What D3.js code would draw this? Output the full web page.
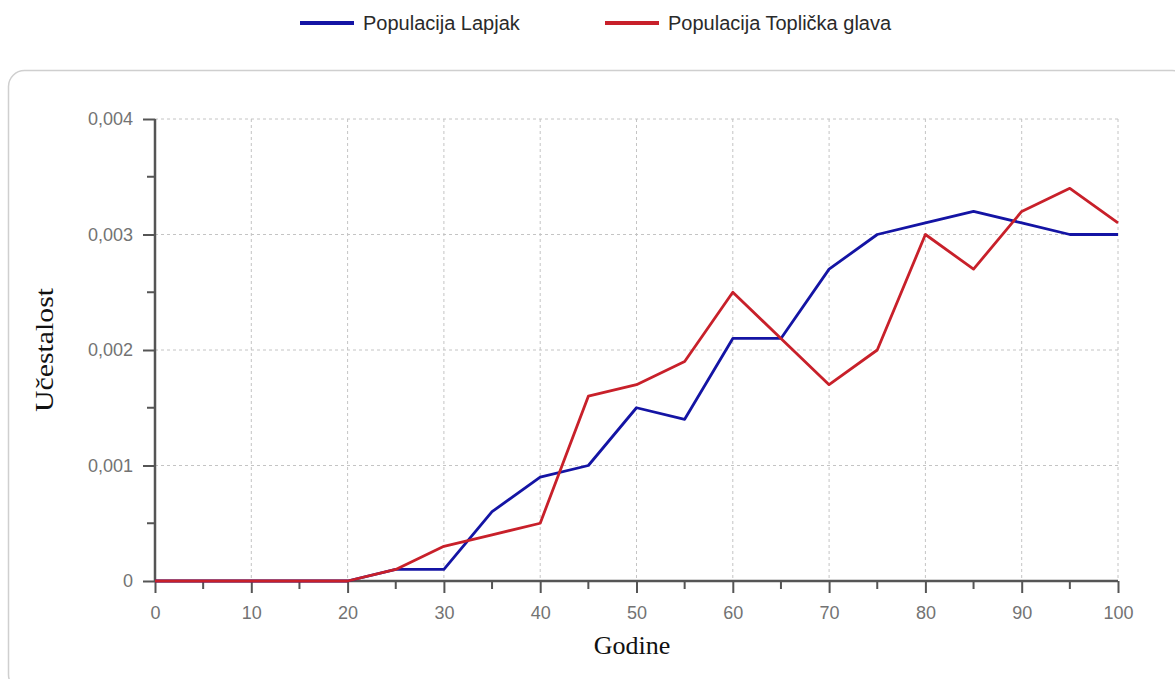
<!DOCTYPE html>
<html><head><meta charset="utf-8">
<script src="https://cdn.jsdelivr.net/npm/d3@7"></script>
<style>body{margin:0;background:#fff;} svg{display:block;}</style>
</head><body>
<svg id="chart" width="1175" height="679"></svg>
<script>
const years = [0,5,10,15,20,25,30,35,40,45,50,55,60,65,70,75,80,85,90,95,100];
const lapjak = [0,0,0,0,0,0.0001,0.0001,0.0006,0.0009,0.001,0.0015,0.0014,0.0021,0.0021,0.0027,0.003,0.0031,0.0032,0.0031,0.003,0.003];
const toplicka = [0,0,0,0,0,0.0001,0.0003,0.0004,0.0005,0.0016,0.0017,0.0019,0.0025,0.0021,0.0017,0.002,0.003,0.0027,0.0032,0.0034,0.0031];
const seriesNames = ["Populacija Lapjak","Populacija Toplička glava"];
const seriesColors = ["#1414a4","#c8202a"];
const xTicks = [0,10,20,30,40,50,60,70,80,90,100];
const yTicks = [0,0.001,0.002,0.003,0.004];
const yTickLabels = ["0","0,001","0,002","0,003","0,004"];

const svg = d3.select("#chart");
const x = d3.scaleLinear().domain([0,100]).range([155,1118]);
const y = d3.scaleLinear().domain([0,0.004]).range([581,119]);

// frame
svg.append("rect").attr("x",8.5).attr("y",70.5).attr("width",1180).attr("height",620)
  .attr("rx",16).attr("fill","#fff").attr("stroke","#cfcfcf").attr("stroke-width",1.5);

// grid
const g = svg.append("g");
g.selectAll(".vg").data(xTicks.filter(d=>d>0)).enter().append("line")
  .attr("x1",d=>x(d)).attr("x2",d=>x(d)).attr("y1",y(0.004)).attr("y2",y(0))
  .attr("stroke","#c4c4c4").attr("stroke-dasharray","3,3");
g.selectAll(".hg").data(yTicks.filter(d=>d>0)).enter().append("line")
  .attr("x1",x(0)).attr("x2",x(100)).attr("y1",d=>y(d)).attr("y2",d=>y(d))
  .attr("stroke","#c4c4c4").attr("stroke-dasharray","3,3");

// axes
const xAxis = d3.axisBottom(x).tickValues(xTicks).tickSize(12).tickPadding(13).tickFormat(d3.format("d"));
const yAxis = d3.axisLeft(y).tickValues(yTicks).tickSize(12).tickPadding(10).tickFormat((d,i)=>yTickLabels[i]);
const xa = svg.append("g").attr("transform",`translate(0,${y(0)})`).call(xAxis);
const ya = svg.append("g").attr("transform",`translate(${x(0)},0)`).call(yAxis);
// minor ticks
svg.append("g").selectAll("line").data(d3.range(5,100,10)).enter().append("line")
  .attr("x1",d=>x(d)).attr("x2",d=>x(d)).attr("y1",y(0)).attr("y2",y(0)+8)
  .attr("stroke","#555").attr("stroke-width",2);
svg.append("g").selectAll("line").data([0.0005,0.0015,0.0025,0.0035]).enter().append("line")
  .attr("x1",x(0)-8).attr("x2",x(0)).attr("y1",d=>y(d)).attr("y2",d=>y(d))
  .attr("stroke","#555").attr("stroke-width",2);
[xa,ya].forEach(a=>{
  a.select(".domain").attr("stroke","#555").attr("stroke-width",2.5);
  a.selectAll(".tick line").attr("stroke","#555").attr("stroke-width",2);
  a.selectAll(".tick text").attr("fill","#737373").attr("font-family","Liberation Sans, Arial, sans-serif").attr("font-size",18);
});
ya.select(".domain").attr("d",`M0,${y(0.004)}V${y(0)}`);
xa.select(".domain").attr("d",`M${x(0)},0H${x(100)}`);

// lines
const line = d3.line().x((d,i)=>x(years[i])).y(d=>y(d));
[lapjak,toplicka].forEach((s,k)=>{
  svg.append("path").datum(s).attr("d",line).attr("fill","none")
    .attr("stroke",seriesColors[k]).attr("stroke-width",2.8).attr("stroke-linejoin","round");
});

// axis titles
svg.append("text").attr("x",632).attr("y",654).attr("text-anchor","middle")
  .attr("font-family","Liberation Serif, Times New Roman, serif").attr("font-size",26).attr("fill","#111").text("Godine");
svg.append("text").attr("transform","translate(53,350) rotate(-90)").attr("text-anchor","middle")
  .attr("font-family","Liberation Serif, Times New Roman, serif").attr("font-size",25)
  .attr("textLength",124).attr("lengthAdjust","spacingAndGlyphs").attr("fill","#111").text("Učestalost");

// legend
const legX = [300,605];
seriesNames.forEach((n,k)=>{
  svg.append("line").attr("x1",legX[k]).attr("x2",legX[k]+54).attr("y1",23).attr("y2",23)
    .attr("stroke",seriesColors[k]).attr("stroke-width",4);
  svg.append("text").attr("x",legX[k]+63).attr("y",30).attr("font-family","Liberation Sans, Arial, sans-serif")
    .attr("font-size",20).attr("fill","#2a2a2a").text(n);
});
</script>
</body></html>
